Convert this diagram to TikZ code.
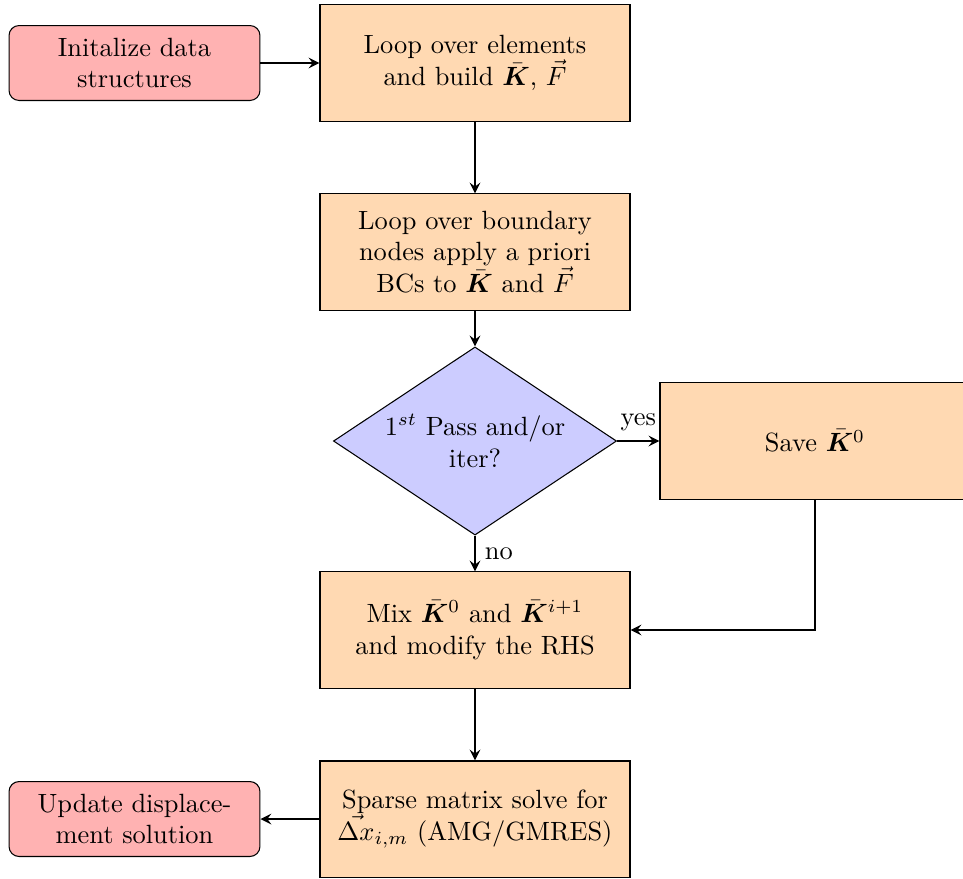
\documentclass[tikz,border=0pt]{standalone}
\usepackage{amsmath}
\usepackage{bm}
\usetikzlibrary{shapes.geometric,arrows}
\tikzset{
  startstop/.style={rectangle, rounded corners=3.8pt, minimum width=95.1pt, minimum height=28.4pt, align=center, draw=black, fill=red!30, inner sep=0pt},
  process/.style={rectangle, minimum width=117.5pt, minimum height=44pt, align=center, draw=black, fill=orange!30, inner sep=0pt},
  decision/.style={diamond, aspect=1.5, minimum width=107.3pt, minimum height=71.3pt, align=center, draw=black, fill=blue!20, inner sep=0pt},
  arrow/.style={thick,->,>=stealth}
}
\begin{document}
\begin{tikzpicture}[x=0.379pt,y=-0.379pt]
\useasboundingbox (0,0) rectangle (963,878);
\begin{scope}
\clip (0,0) rectangle (963,878);
\node[startstop] (init) at (134.5,63) {Initalize data\\structures};
\node[process] (elem) at (475,63) {Loop over elements\\and build $\bar{\bm{K}}$, $\vec{F}$};
\node[process] (bc) at (475,252) {Loop over boundary\\nodes apply a priori\\BCs to $\bar{\bm{K}}$ and $\vec{F}$};
\node[decision] (dec) at (475,441) {$1^{st}$ Pass and/or\\iter?};
\node[process] (save) at (815,441) {Save $\bar{\bm{K}}^0$};
\node[process] (mix) at (475,630) {Mix $\bar{\bm{K}}^0$ and $\bar{\bm{K}}^{i+1}$\\and modify the RHS};
\node[process] (solve) at (475,819) {Sparse matrix solve for\\$\vec{\Delta x}_{i,m}$ (AMG/GMRES)};
\node[startstop] (upd) at (134.5,819) {Update displace-\\ment solution};
\draw[arrow] (init) -- (elem);
\draw[arrow] (elem) -- (bc);
\draw[arrow] (bc) -- (dec);
\draw[arrow] (dec) -- node[above] {yes} (save);
\draw[arrow] (dec) -- node[right] {no} (mix);
\draw[arrow] (save) |- (mix);
\draw[arrow] (mix) -- (solve);
\draw[arrow] (solve) -- (upd);
\end{scope}
\end{tikzpicture}
\end{document}
